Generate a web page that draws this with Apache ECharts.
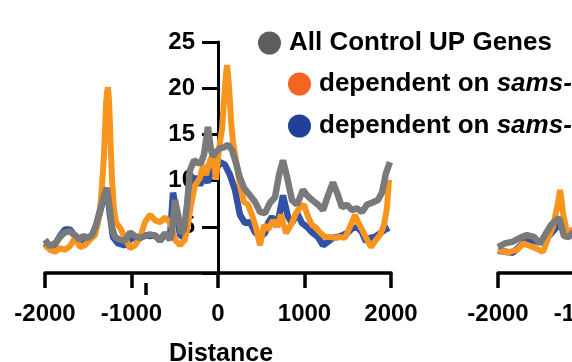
<!DOCTYPE html>
<html>
<head>
<meta charset="utf-8">
<script src="https://cdn.jsdelivr.net/npm/echarts@6/dist/echarts.min.js"></script>
<style>
html,body{margin:0;padding:0;background:#fff;}
#chart{width:572px;height:362px;}
</style>
</head>
<body>
<div id="chart"></div>
<script>
// ---- data (Distance, value) ----
const seriesNames = ['All Control UP Genes', 'dependent on sams- (a)', 'dependent on sams- (b)'];
const xTicks = [-2000, -1000, 0, 1000, 2000];
const yTicks = [5, 10, 15, 20, 25];

// Panel 1
const grayMain = [[-2000,3.6],[-1942,2.9],[-1884,3.2],[-1827,3.9],[-1769,4.4],[-1711,4.5],[-1653,4.1],[-1595,3.6],[-1561,4.0],[-1503,3.8],[-1457,4.1],[-1410,5.2],[-1364,6.8],[-1318,8.4],[-1283,9.2],[-1249,6.8],[-1225,4.9],[-1191,3.9],[-1133,3.6],[-1075,3.5],[-1017,4.4],[-960,4.0],[-902,3.8],[-844,4.0],[-786,4.2],[-728,4.0],[-671,3.6],[-613,4.3],[-555,3.6],[-532,4.4],[-497,7.9],[-462,6.3],[-428,4.3],[-393,4.7],[-358,7.4],[-324,11.1],[-277,12.2],[-231,11.9],[-197,11.9],[-162,12.8],[-116,15.8],[-81,13.3],[-58,12.6],[-23,13.1],[23,13.5],[69,13.6],[116,13.9],[162,13.3],[208,11.9],[254,10.3],[301,9.2],[370,8.4],[428,7.7],[486,6.6],[543,6.5],[601,7.6],[659,8.2],[705,10.6],[751,12.2],[798,10.4],[855,7.9],[913,7.4],[983,9.0],[1029,8.4],[1087,7.9],[1156,7.4],[1214,6.8],[1272,8.4],[1329,9.8],[1376,8.7],[1434,7.1],[1491,7.4],[1549,6.8],[1607,7.0],[1665,6.6],[1723,7.4],[1780,7.6],[1850,7.9],[1896,8.7],[1942,10.8],[1988,12.0]];

const orangeMain = [[-2000,3.0],[-1942,2.5],[-1884,2.3],[-1827,2.7],[-1769,2.5],[-1711,2.9],[-1653,3.8],[-1595,2.8],[-1538,3.0],[-1480,3.6],[-1422,4.1],[-1387,5.5],[-1364,6.8],[-1341,9.5],[-1318,12.8],[-1306,15.5],[-1295,18.2],[-1283,19.6],[-1272,20.1],[-1260,18.7],[-1249,16.0],[-1237,12.8],[-1225,10.1],[-1202,6.8],[-1179,5.5],[-1133,4.9],[-1075,3.8],[-1017,2.7],[-960,3.0],[-902,3.8],[-844,5.5],[-786,6.3],[-728,5.7],[-671,5.5],[-613,6.0],[-555,5.5],[-497,3.6],[-439,3.0],[-382,3.6],[-347,5.2],[-312,7.4],[-266,9.5],[-208,10.3],[-173,11.7],[-139,10.6],[-92,12.2],[-58,12.8],[-23,10.1],[0,12.4],[23,14.2],[46,15.5],[69,18.7],[92,21.4],[104,22.5],[127,20.3],[150,16.6],[173,14.2],[208,12.2],[254,9.5],[301,7.7],[347,7.4],[393,6.3],[439,4.9],[486,3.0],[532,5.2],[578,4.7],[636,5.7],[682,5.0],[728,6.3],[786,4.3],[855,5.4],[902,6.5],[948,7.1],[994,7.4],[1040,6.1],[1087,5.2],[1133,4.9],[1179,4.4],[1237,3.9],[1295,3.9],[1353,3.8],[1410,3.9],[1468,3.8],[1526,5.0],[1584,6.3],[1619,5.5],[1665,4.7],[1723,3.6],[1769,2.8],[1827,3.6],[1873,4.1],[1919,5.2],[1954,7.1],[1977,10.1]];

const blueMain = [[-2000,3.2],[-1942,2.7],[-1884,3.1],[-1827,4.0],[-1769,4.7],[-1711,4.7],[-1653,4.0],[-1595,3.5],[-1538,3.8],[-1457,4.0],[-1410,4.9],[-1364,6.6],[-1318,8.3],[-1283,9.0],[-1249,6.3],[-1214,3.9],[-1156,3.2],[-1075,3.0],[-1017,3.6],[-960,3.9],[-902,3.8],[-844,4.1],[-786,4.0],[-728,4.1],[-671,3.5],[-613,4.2],[-555,3.8],[-520,8.7],[-474,6.3],[-439,4.1],[-393,3.8],[-347,6.3],[-301,9.8],[-254,10.4],[-208,9.5],[-162,10.5],[-116,9.8],[-69,11.6],[-23,11.1],[23,12.0],[81,11.7],[139,10.6],[197,9.0],[254,6.3],[312,5.4],[370,5.5],[428,4.4],[486,3.9],[543,4.3],[578,5.4],[624,6.1],[682,5.0],[751,8.4],[809,6.1],[855,5.4],[913,6.5],[971,5.4],[1029,5.0],[1087,4.4],[1156,3.9],[1214,3.0],[1272,3.4],[1329,3.8],[1387,3.9],[1445,4.1],[1503,4.4],[1561,4.9],[1619,4.9],[1665,4.4],[1711,3.4],[1757,3.8],[1815,3.9],[1873,4.3],[1931,4.7],[1977,4.9]];

// Panel 2 (partially visible)
const graySecond = [[-2000,2.8],[-1919,3.2],[-1827,3.4],[-1746,3.8],[-1665,4.1],[-1584,3.9],[-1515,3.2],[-1445,4.3],[-1387,5.2],[-1295,6.0],[-1237,4.0],[-1179,3.9],[-1144,4.3],[-1050,4.5],[-950,4.0]];
const orangeSecond = [[-2000,2.5],[-1896,2.2],[-1780,2.5],[-1711,3.2],[-1595,2.8],[-1480,2.3],[-1410,4.0],[-1364,5.0],[-1318,7.1],[-1295,8.2],[-1283,9.0],[-1260,7.5],[-1249,6.5],[-1202,4.3],[-1144,4.7],[-1050,4.2],[-950,4.0]];
const blueSecond = [[-2000,2.4],[-1827,2.2],[-1665,3.6],[-1480,3.3],[-1364,4.5],[-1283,5.4],[-1202,4.0],[-1144,4.2],[-1050,4.0],[-950,3.8]];

// ---- styling ----
const FONT = '"Liberation Sans", Arial, Helvetica, sans-serif';
const lineGray = '#7a7a7a', lineOrange = '#f7951f', lineBlue = '#3352a6';
const legGray = '#5e5e5e', legOrange = '#f26522', legBlue = '#22409a';

const chart = echarts.init(document.getElementById('chart'), null, {renderer: 'canvas'});

function xAxisCfg(gridIndex, withName) {
  return {
    type: 'value', gridIndex: gridIndex, min: -2000, max: 2000, interval: 1000,
    axisLine: {show: true, onZero: false, lineStyle: {color: '#000', width: 3.5}},
    axisTick: {show: true, length: 15, lineStyle: {color: '#000', width: 3.5}},
    axisLabel: {color: '#000', fontSize: 24, fontWeight: 'bold', fontFamily: FONT, margin: 29,
      hideOverlap: false, showMinLabel: true, showMaxLabel: true,
      formatter: function (v) { return String(v); }},
    splitLine: {show: false},
    name: withName ? 'Distance' : '',
    nameLocation: 'middle', nameGap: 69,
    nameTextStyle: {color: '#000', fontSize: 25, fontWeight: 'bold', fontFamily: FONT, padding: [0, 0, 0, 6]}
  };
}

const option = {
  animation: false,
  backgroundColor: '#fff',
  grid: [
    {left: 45, width: 346, top: 42, bottom: 89, containLabel: false, outerBoundsMode: 'none'},
    {left: 498, width: 346, top: 42, bottom: 89, containLabel: false, outerBoundsMode: 'none'}
  ],
  xAxis: [xAxisCfg(0, true), xAxisCfg(1, false)],
  yAxis: [
    {
      type: 'value', gridIndex: 0, min: 0, max: 25, interval: 5, position: 'left', offset: -173,
      axisLine: {show: true, onZero: false, lineStyle: {color: '#000', width: 3}},
      axisTick: {show: true, length: 16, lineStyle: {color: '#000', width: 3}},
      axisLabel: {color: '#000', fontSize: 24, fontWeight: 'bold', fontFamily: FONT, margin: 23,
        formatter: function (v) { return v === 0 ? '' : String(v); }},
      splitLine: {show: false}
    },
    {
      type: 'value', gridIndex: 1, min: 0, max: 25, interval: 5, show: false
    }
  ],
  legend: [
    {
      data: [{name: seriesNames[0], itemStyle: {color: legGray}}],
      left: 253, top: 25, orient: 'vertical',
      icon: 'circle', itemWidth: 23, itemHeight: 23,
      textStyle: {color: '#000', fontSize: 26, fontWeight: 'bold', fontFamily: FONT, padding: [0, 0, 0, 3]},
      selectedMode: false
    },
    {
      data: [{name: seriesNames[1], itemStyle: {color: legOrange}}, {name: seriesNames[2], itemStyle: {color: legBlue}}],
      left: 283, top: 66, orient: 'vertical', itemGap: 16,
      icon: 'circle', itemWidth: 23, itemHeight: 23,
      formatter: function () { return '{n|dependent on }{i|sams-}'; },
      textStyle: {color: '#000', fontSize: 26, fontWeight: 'bold', fontFamily: FONT, padding: [0, 0, 0, 3],
        rich: {
          n: {color: '#000', fontSize: 26, fontWeight: 'bold', fontFamily: FONT},
          i: {color: '#000', fontSize: 26, fontWeight: 'bold', fontStyle: 'italic', fontFamily: FONT}
        }},
      selectedMode: false
    }
  ],
  graphic: [
    {type: 'line', shape: {x1: 146, y1: 283, x2: 146, y2: 295}, style: {stroke: '#000', lineWidth: 3.5}, silent: true}
  ],
  series: [
    {name: seriesNames[2], type: 'line', xAxisIndex: 0, yAxisIndex: 0, data: blueMain, showSymbol: false, z: 2,
      lineStyle: {color: lineBlue, width: 6.5}, itemStyle: {color: lineBlue}},
    {name: seriesNames[1], type: 'line', xAxisIndex: 0, yAxisIndex: 0, data: orangeMain, showSymbol: false, z: 3,
      lineStyle: {color: lineOrange, width: 6}, itemStyle: {color: lineOrange}},
    {name: seriesNames[0], type: 'line', xAxisIndex: 0, yAxisIndex: 0, data: grayMain, showSymbol: false, z: 4,
      lineStyle: {color: lineGray, width: 6.5}, itemStyle: {color: lineGray}},
    {name: seriesNames[2], type: 'line', xAxisIndex: 1, yAxisIndex: 1, data: blueSecond, showSymbol: false, z: 2,
      lineStyle: {color: lineBlue, width: 6.5}, itemStyle: {color: lineBlue}},
    {name: seriesNames[1], type: 'line', xAxisIndex: 1, yAxisIndex: 1, data: orangeSecond, showSymbol: false, z: 3,
      lineStyle: {color: lineOrange, width: 6}, itemStyle: {color: lineOrange}},
    {name: seriesNames[0], type: 'line', xAxisIndex: 1, yAxisIndex: 1, data: graySecond, showSymbol: false, z: 4,
      lineStyle: {color: lineGray, width: 6.5}, itemStyle: {color: lineGray}}
  ]
};
chart.setOption(option);
</script>
</body>
</html>
